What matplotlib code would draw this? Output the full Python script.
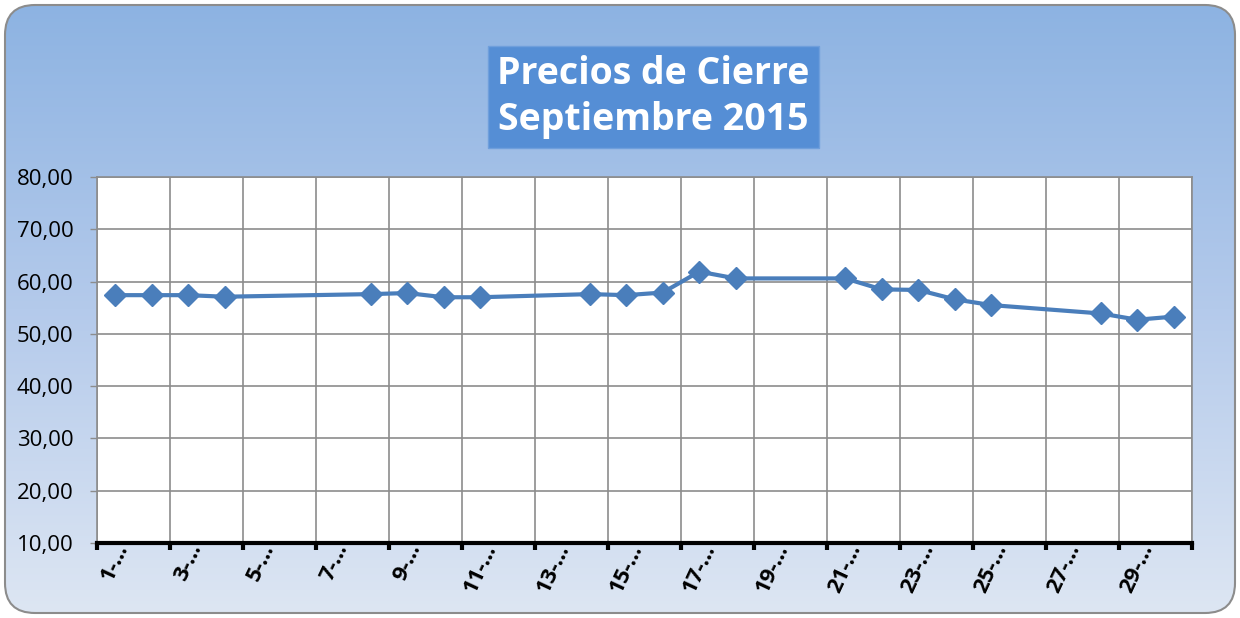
import matplotlib
matplotlib.use("Agg")
import matplotlib.pyplot as plt
import numpy as np
from matplotlib.patches import FancyBboxPatch
from matplotlib.colors import LinearSegmentedColormap

plt.rcParams['font.family'] = ['Open Sans', 'DejaVu Sans']

# datos: días hábiles de septiembre 2015 y precio de cierre
dias = [1, 2, 3, 4, 8, 9, 10, 11, 14, 15, 16, 17, 18, 21, 22, 23, 24, 25, 28, 29, 30]
precios = [57.4, 57.4, 57.4, 57.1, 57.6, 57.8, 57.0, 57.0, 57.6, 57.4, 57.9,
           61.9, 60.6, 60.6, 58.5, 58.4, 56.6, 55.5, 53.9, 52.7, 53.3]
dias_etiqueta = [1, 3, 5, 7, 9, 11, 13, 15, 17, 19, 21, 23, 25, 27, 29]
etiquetas = ["1-…", "3-…", "5-…", "7-…", "9-…", "11-…", "13-…", "15-…",
             "17-…", "19-…", "21-…", "23-…", "25-…", "27-…", "29-…"]
yticks = [10, 20, 30, 40, 50, 60, 70, 80]

fig = plt.figure(figsize=(12.4, 6.18), dpi=100)

# fondo con degradado y bordes redondeados
bg = fig.add_axes([0, 0, 1, 1], zorder=0)
bg.set_xlim(0, 1240)
bg.set_ylim(0, 618)
bg.axis("off")
cmap = LinearSegmentedColormap.from_list("fondo", ["#dde6f3", "#b4caeb", "#8db3e2"])
grad = np.linspace(0, 1, 256).reshape(-1, 1)
img = bg.imshow(grad, cmap=cmap, extent=[5, 1235, 5, 613], origin="lower", aspect="auto")
caja = FancyBboxPatch((5, 5), 1230, 608, boxstyle="round,pad=0,rounding_size=30",
                      facecolor="none", edgecolor="#8c8c8c", linewidth=1.5)
bg.add_patch(caja)
img.set_clip_path(caja)

ax = fig.add_axes([0.0782, 0.1214, 0.8831, 0.5922], zorder=1)
ax.set_facecolor("white")
ax.plot(dias, precios, color="#4a7ebb", linewidth=3, marker="D", markersize=11,
        markerfacecolor="#4a7ebb", markeredgecolor="#4a7ebb", zorder=3)

ax.set_xlim(0.5, 30.5)
ax.set_ylim(10, 80)
# marcas y rejilla entre días, etiquetas en el centro de cada día
ax.set_xticks(np.arange(0.5, 31, 2))
ax.set_xticklabels([])
ax.set_xticks(dias_etiqueta, minor=True)
ax.set_xticklabels(etiquetas, minor=True, rotation=65, ha="center", va="top",
                   fontsize=16, fontweight="bold")
ax.set_yticks(yticks)
ax.set_yticklabels([f"{v:.2f}".replace(".", ",") for v in yticks], fontsize=16)
ax.grid(True, which="major", color="#8c8c8c", linewidth=1.2)
ax.set_axisbelow(True)

for s in ["top", "right", "left"]:
    ax.spines[s].set_color("#8c8c8c")
    ax.spines[s].set_linewidth(1.2)
ax.spines["bottom"].set_color("black")
ax.spines["bottom"].set_linewidth(3)
ax.tick_params(axis="x", which="major", direction="out", length=5, width=3, color="black")
ax.tick_params(axis="x", which="minor", length=0, pad=-2)
ax.tick_params(axis="y", direction="out", length=5, width=1, color="#8c8c8c", pad=12)

fig.text(0.527, 0.843, "Precios de Cierre\nSeptiembre 2015", ha="center", va="center",
         fontsize=27, fontweight="bold", color="white", linespacing=1.25,
         bbox=dict(boxstyle="square,pad=0.25", facecolor="#558ed5", edgecolor="#6f9fdc"))

fig.savefig("out.png", dpi=100)
